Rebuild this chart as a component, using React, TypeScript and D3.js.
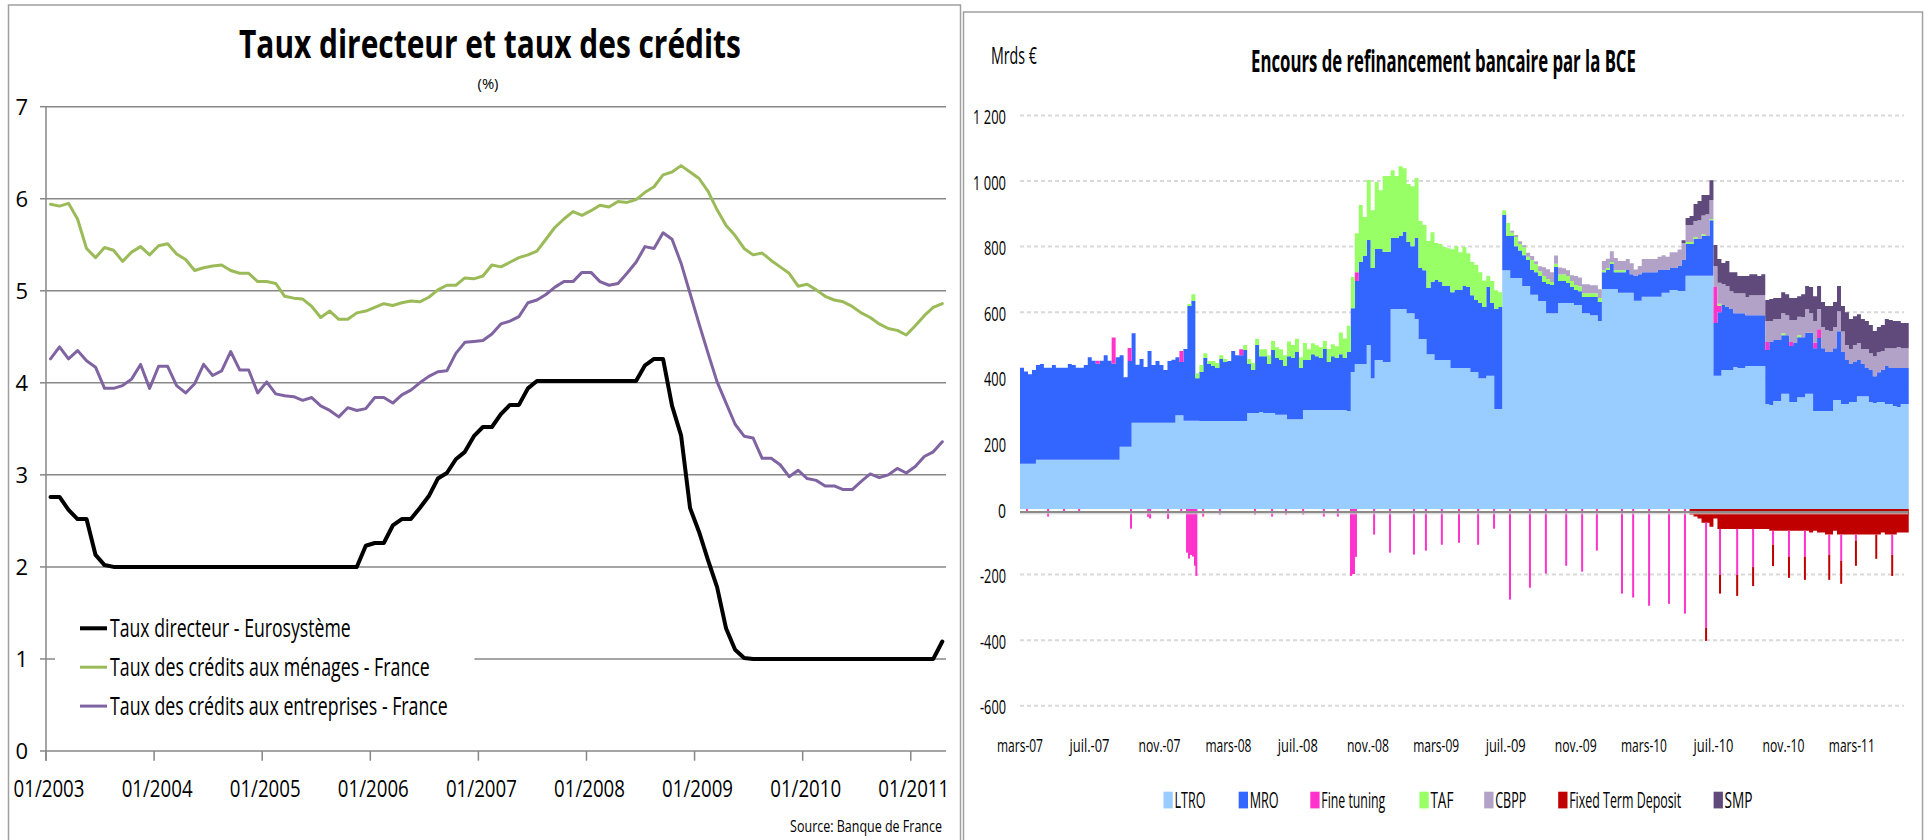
import React, { useLayoutEffect, useRef, useState } from 'react';
import * as d3 from 'd3';

const FONT = "'Open Sans', 'DejaVu Sans', sans-serif";

// ================= LEFT CHART DATA (monthly, 01/2003 .. 04/2011) =================
const leftYearLabels = ['01/2003', '01/2004', '01/2005', '01/2006', '01/2007', '01/2008', '01/2009', '01/2010', '01/2011'];
const leftYTicks = [0, 1, 2, 3, 4, 5, 6, 7];
const leftLegendLabels = [
  'Taux directeur - Eurosystème',
  'Taux des crédits aux ménages - France',
  'Taux des crédits aux entreprises - France',
];

const tauxDirecteur = [
  2.76, 2.76, 2.62, 2.52, 2.52, 2.13, 2.02, 2.0, 2.0, 2.0,
  2.0, 2.0, 2.0, 2.0, 2.0, 2.0, 2.0, 2.0, 2.0, 2.0,
  2.0, 2.0, 2.0, 2.0, 2.0, 2.0, 2.0, 2.0, 2.0, 2.0,
  2.0, 2.0, 2.0, 2.0, 2.0, 2.23, 2.26, 2.26, 2.45, 2.52,
  2.52, 2.64, 2.77, 2.96, 3.02, 3.17, 3.25, 3.42, 3.52, 3.52,
  3.66, 3.76, 3.76, 3.94, 4.02, 4.02, 4.02, 4.02, 4.02, 4.02,
  4.02, 4.02, 4.02, 4.02, 4.02, 4.02, 4.19, 4.26, 4.26, 3.75,
  3.43, 2.64, 2.38, 2.07, 1.78, 1.33, 1.10, 1.01, 1.0, 1.0,
  1.0, 1.0, 1.0, 1.0, 1.0, 1.0, 1.0, 1.0, 1.0, 1.0,
  1.0, 1.0, 1.0, 1.0, 1.0, 1.0, 1.0, 1.0, 1.0, 1.19,
];

const creditsMenages = [
  5.94, 5.92, 5.95, 5.78, 5.46, 5.36, 5.47, 5.44, 5.32, 5.42,
  5.48, 5.39, 5.49, 5.51, 5.40, 5.34, 5.22, 5.25, 5.27, 5.28,
  5.22, 5.19, 5.19, 5.10, 5.10, 5.08, 4.94, 4.92, 4.91, 4.83,
  4.71, 4.78, 4.69, 4.69, 4.76, 4.78, 4.82, 4.86, 4.84, 4.87,
  4.89, 4.88, 4.93, 5.01, 5.06, 5.06, 5.14, 5.13, 5.16, 5.28,
  5.26, 5.31, 5.36, 5.39, 5.43, 5.56, 5.69, 5.78, 5.86, 5.82,
  5.87, 5.93, 5.91, 5.97, 5.96, 5.99, 6.07, 6.13, 6.26, 6.29,
  6.36, 6.29, 6.22, 6.08, 5.88, 5.71, 5.60, 5.46, 5.39, 5.41,
  5.33, 5.26, 5.19, 5.05, 5.07, 5.01, 4.94, 4.90, 4.88, 4.83,
  4.76, 4.71, 4.64, 4.59, 4.57, 4.52, 4.62, 4.73, 4.82, 4.86,
];

const creditsEntreprises = [
  4.26, 4.39, 4.26, 4.35, 4.24, 4.17, 3.94, 3.94, 3.97, 4.04,
  4.20, 3.94, 4.18, 4.18, 3.97, 3.89, 3.99, 4.20, 4.08, 4.13,
  4.34, 4.14, 4.14, 3.89, 4.01, 3.88, 3.86, 3.85, 3.81, 3.84,
  3.75, 3.70, 3.63, 3.73, 3.70, 3.72, 3.84, 3.84, 3.78, 3.87,
  3.92, 4.00, 4.07, 4.12, 4.13, 4.32, 4.44, 4.45, 4.46, 4.53,
  4.64, 4.67, 4.72, 4.87, 4.90, 4.96, 5.04, 5.10, 5.10, 5.20,
  5.20, 5.10, 5.06, 5.08, 5.19, 5.31, 5.48, 5.46, 5.63, 5.56,
  5.30, 4.97, 4.64, 4.32, 4.01, 3.78, 3.55, 3.42, 3.40, 3.18,
  3.18, 3.11, 2.98, 3.05, 2.96, 2.94, 2.88, 2.88, 2.84, 2.84,
  2.93, 3.01, 2.97, 3.00, 3.07, 3.02, 3.09, 3.20, 3.25, 3.36,
];

// ================= RIGHT CHART DATA (weekly, from 03/2007, Mrds €) =================
const rightXLabels = ['mars-07', 'juil.-07', 'nov.-07', 'mars-08', 'juil.-08', 'nov.-08', 'mars-09', 'juil.-09', 'nov.-09', 'mars-10', 'juil.-10', 'nov.-10', 'mars-11'];
const rightYTicks = [-600, -400, -200, 0, 200, 400, 600, 800, 1000, 1200];
const rightYLabels = ['-600', '-400', '-200', '0', '200', '400', '600', '800', '1 000', '1 200'];
const rightLegendLabels = ['LTRO', 'MRO', 'Fine tuning', 'TAF', 'CBPP', 'Fixed Term Deposit', 'SMP'];

const ltro = [
  138, 138, 138, 138, 150, 150, 150, 150, 150, 150,
  150, 150, 150, 150, 150, 150, 150, 150, 150, 150,
  150, 150, 150, 150, 150, 190, 190, 190, 263, 263,
  263, 263, 263, 263, 263, 263, 263, 263, 263, 286,
  286, 269, 269, 269, 269, 268, 268, 268, 268, 268,
  268, 268, 268, 268, 268, 268, 268, 293, 293, 293,
  296, 293, 293, 293, 287, 287, 287, 274, 274, 274,
  274, 302, 302, 302, 302, 302, 302, 302, 302, 302,
  302, 302, 299, 418, 442, 442, 442, 500, 399, 454,
  454, 448, 448, 610, 610, 610, 610, 597, 597, 579,
  518, 518, 472, 472, 454, 454, 454, 454, 430, 430,
  430, 430, 430, 418, 418, 399, 399, 406, 406, 305,
  305, 728, 728, 704, 704, 704, 680, 680, 653, 653,
  634, 634, 597, 597, 597, 628, 628, 628, 628, 622,
  622, 597, 597, 591, 591, 573, 671, 671, 671, 671,
  659, 659, 659, 659, 635, 635, 647, 647, 647, 647,
  647, 659, 659, 668, 668, 665, 665, 711, 711, 711,
  711, 711, 711, 711, 406, 406, 424, 424, 424, 433,
  430, 430, 436, 436, 436, 436, 436, 320, 317, 329,
  329, 351, 351, 326, 326, 341, 341, 351, 351, 299,
  299, 299, 299, 299, 332, 332, 320, 320, 326, 326,
  344, 344, 344, 326, 323, 326, 326, 320, 320, 314,
  311, 320, 320,
];

const mro = [
  293, 281, 273, 286, 289, 292, 281, 281, 289, 281,
  281, 281, 292, 289, 281, 281, 289, 313, 302, 293,
  302, 319, 302, 293, 313, 279, 212, 261, 273, 177,
  194, 170, 219, 176, 188, 176, 161, 188, 192, 177,
  162, 219, 350, 365, 130, 150, 192, 174, 168, 162,
  189, 180, 183, 214, 201, 201, 217, 149, 131, 207,
  170, 173, 149, 192, 173, 167, 149, 192, 186, 205,
  156, 152, 152, 170, 164, 158, 186, 146, 164, 158,
  170, 158, 180, 194, 253, 311, 329, 320, 336, 339,
  339, 336, 336, 216, 216, 222, 235, 217, 204, 247,
  217, 210, 202, 220, 244, 238, 226, 226, 231, 238,
  238, 250, 247, 234, 219, 229, 217, 271, 222, 305,
  311, 168, 104, 128, 97, 84, 94, 79, 76, 69,
  76, 58, 89, 86, 141, 67, 67, 61, 49, 46,
  42, 49, 49, 55, 55, 58, 51, 58, 76, 51,
  63, 63, 70, 57, 75, 81, 75, 75, 75, 75,
  82, 70, 70, 67, 67, 76, 94, 97, 97, 112,
  112, 121, 121, 169, 161, 194, 198, 192, 186, 164,
  167, 167, 155, 155, 155, 155, 155, 165, 192, 186,
  186, 179, 179, 171, 180, 183, 183, 186, 186, 191,
  222, 191, 180, 180, 158, 210, 159, 134, 116, 122,
  110, 98, 86, 98, 82, 91, 98, 116, 110, 116,
  119, 110, 110,
];

// positive fine tuning operations: [week, amount]
const fineTuningPos = [[19, 9], [23, 80], [27, 40], [40, 34], [55, 18], [84, 27], [174, 110], [175, 20], [187, 24], [193, 12], [199, 18], [200, 27]];

// TAF from week 42
const tafStart = 42;
const taf = [
  6, 21, 15, 21, 15, 9, 15, 15,
  12, 9, 0, 0, 0, 0, 15, 15, 21, 18,
  21, 21, 27, 27, 33, 33, 33, 45, 40, 40,
  33, 52, 33, 33, 33, 33, 24, 40, 36, 36,
  66, 60, 80, 95, 119, 174, 119, 183, 176, 204,
  179, 231, 231, 207, 189, 213, 194, 177, 183, 183,
  143, 138, 143, 152, 113, 116, 119, 115, 131, 133,
  115, 119, 103, 101, 107, 94, 81, 33, 67, 57,
  45, 15, 40, 10, 28, 20, 24, 10, 30, 24,
  15, 18, 15, 9, 10, 20, 21, 21, 18, 15,
  15, 12, 12, 12, 12, 12, 6, 6, 6, 6,
  6, 6, 0, 0, 0, 0, 0, 0, 0, 0,
  0, 0, 0, 0, 0, 0, 0, 6, 6, 6,
  0, 6, 0, 4, 0, 6, 0, 0, 0, 0,
  0, 0, 0, 0, 0, 0, 0, 0, 0, 0,
  0, 6, 0, 0, 0, 6,
];

// CBPP from week 123
const cbppStart = 123;
const cbpp = [
  6, 6, 8, 6, 12, 12, 9,
  15, 27, 30, 30, 25, 21, 18, 18, 18, 27,
  27, 27, 27, 24, 24, 27, 28, 28, 33, 37,
  28, 28, 33, 33, 20, 25, 40, 40, 40, 40,
  40, 45, 40, 48, 48, 50, 52, 52, 52, 49,
  57, 57, 67, 58, 64, 64, 64, 64, 54, 61,
  61, 61, 55, 61, 61, 61, 61, 64, 64, 64,
  64, 61, 61, 67, 70, 56, 61, 73, 60, 65,
  62, 65, 67, 64, 65, 61, 62, 46, 46, 52,
  52, 46, 58, 51, 61, 61, 58, 54, 60, 60,
  64, 60, 60,
];

// SMP from week 166
const smpStart = 166;
const smp = [
  8, 21, 27, 52,
  59, 62, 58, 60, 64, 72, 64, 76, 58, 64,
  52, 52, 64, 64, 64, 58, 64, 64, 67, 64,
  64, 64, 64, 67, 67, 63, 70, 70, 80, 76,
  70, 76, 73, 76, 76, 77, 78, 100, 91, 88,
  88, 91, 85, 86, 77, 77, 79, 89, 86, 83,
  79, 77, 77,
];

// Fixed term deposits from week 168 (negative)
const ftdStart = 168;
const ftd = [
  -17, -23, -29, -42, -42, -54, -29, -61, -61, -61,
  -61, -61, -61, -61, -61, -61, -61, -61, -61, -61,
  -66, -66, -66, -66, -66, -66, -66, -66, -66, -66,
  -72, -66, -72, -72, -78, -78, -66, -78, -78, -78,
  -78, -78, -78, -78, -78, -78, -78, -78, -72, -78,
  -78, -78, -72, -72, -72,
];

// negative fine tuning operations (daily): [position in weeks, fine tuning, extra fixed term deposit]
const fineTuningNeg = [
  [1.5, -6, 0], [6.8, -23, 0], [10.8, -6, 0], [14.6, -6, 0], [27.6, -60, 0], [31.9, -24, 0], [32.4, -29, 0], [36.9, -30, 0], [40.2, -6, 0],
  [41.66, -133, 0], [42.16, -151, 0], [42.66, -140, 0], [43.16, -145, 0], [43.66, -173, 0], [44.0, -204, 0],
  [45.7, -23, 0], [49.9, -17, 0], [58.7, -17, 0], [63.0, -23, 0], [66.5, -17, 0], [70.8, -17, 0], [76.0, -23, 0], [79.5, -23, 0],
  [82.8, -204, 0], [83.3, -198, 0], [83.55, -198, 0], [84.05, -146, 0],
  [88.6, -78, 0], [92.6, -133, 0], [98.6, -139, 0], [101.6, -127, 0], [105.6, -109, 0], [109.9, -103, 0], [114.7, -109, 0], [118.7, -60, 0],
  [122.7, -276, 0], [127.7, -240, 0], [131.7, -197, 0], [136.8, -173, 0], [140.8, -191, 0], [144.5, -127, 0], [150.8, -258, 0], [153.6, -270, 0],
  [157.6, -295, 0], [162.6, -289, 0], [166.6, -319, 0],
  [171.9, -320, -40], [175.4, -140, -57], [179.7, -140, -64], [183.7, -116, -58], [188.7, -43, -65], [192.7, -80, -64], [196.7, -80, -70],
  [202.8, -61, -77], [205.8, -80, -70], [209.5, -18, -77], [214.6, 0, -74], [218.6, -62, -64],
];

// ================= STYLES / LAYOUT =================
const leftColors = ['#000000', '#9BBB59', '#8064A2'];
const leftWidths = [4, 3, 3];
const leftLegendLens = [241, 320, 338];
const rightColors = ['#99CCFF', '#3366FF', '#FF33CC', '#99FF66', '#B3A2C7', '#C00000', '#604A7B'];
const rightLegendX = [1163.5, 1238.7, 1310.3, 1419.4, 1484.2, 1558.2, 1713.6];
const rightLegendLens = [31, 29, 64, 23, 31, 112, 28];

type TP = { x: number; y: number; size: number; anchor?: string; weight?: number; len?: number; fill?: string; children: React.ReactNode };
// Text squeezed horizontally (scaleX) so that its width matches the reference.
function T({ x, y, size, anchor = 'start', weight = 400, len, fill = '#000', children }: TP) {
  const ref = useRef<SVGTextElement>(null);
  const [sx, setSx] = useState(1);
  useLayoutEffect(() => {
    if (len && ref.current) {
      const n = ref.current.getComputedTextLength();
      if (n > 0) setSx(len / n);
    }
  }, [len, size, children]);
  return (
    <text ref={ref} x={0} y={0} transform={`translate(${x},${y}) scale(${sx},1)`} fontSize={size} fontFamily={FONT}
      fontWeight={weight} fill={fill} textAnchor={anchor as any}>
      {children}
    </text>
  );
}

const at = (arr: number[], start: number, i: number) => (i >= start && i - start < arr.length ? arr[i - start] : 0);

export default function App() {
  // ---------- left scales ----------
  const xL = d3.scaleLinear().domain([0, 100]).range([46, 946.8]);
  const yL = d3.scaleLinear().domain([0, 7]).range([751, 106.7]);
  const lineGen = d3.line<number>().x((_, i) => xL(i + 0.5)).y((v) => yL(v));
  const leftSeries = [creditsEntreprises, creditsMenages, tauxDirecteur];
  const leftSeriesIdx = [2, 1, 0];

  // ---------- right scales ----------
  const t0 = Date.UTC(2007, 2, 1);
  const xR = d3.scaleUtc().domain([new Date(t0), new Date(Date.UTC(2011, 2, 1))]).range([1020, 1851.8]);
  const yR = d3.scaleLinear().domain([-600, 1200]).range([705.8, 115.4]);
  const weekDate = (p: number) => new Date(t0 + p * 7 * 86400000);
  const N = ltro.length;
  const ftPosMap = new Map(fineTuningPos.map(([w, v]) => [w, v]));
  const rows = d3.range(N + 1).map((i) => {
    const j = Math.min(i, N - 1);
    return {
      date: weekDate(i),
      ltro: ltro[j],
      mro: mro[j],
      ft: ftPosMap.get(j) || 0,
      taf: at(taf, tafStart, j),
      cbpp: at(cbpp, cbppStart, j),
      smp: at(smp, smpStart, j),
      ftd: at(ftd, ftdStart, j),
    };
  });
  const keys = ['ltro', 'mro', 'ft', 'taf', 'cbpp', 'smp'];
  const keyColor: Record<string, string> = { ltro: rightColors[0], mro: rightColors[1], ft: rightColors[2], taf: rightColors[3], cbpp: rightColors[4], smp: rightColors[6] };
  const stacked = d3.stack<any>().keys(keys)(rows);
  const area = d3.area<any>()
    .x((d) => xR(d.data.date))
    .y0((d) => yR(d[0]))
    .y1((d) => yR(d[1]))
    .curve(d3.curveStepAfter);
  const ftdArea = d3.area<any>()
    .x((d) => xR(d.date))
    .y0(() => yR(0))
    .y1((d) => yR(d.ftd))
    .curve(d3.curveStepAfter)(rows);

  const rightLabelLen = (s: string) => (s.startsWith('mars') ? 46 : s.startsWith('juil') ? 40 : 42);
  const yLabLen = (s: string) => (s.length === 5 ? 33 : s.length === 4 ? 26 : s.length === 3 ? 22 : 8);

  return (
    <svg width={1927} height={840} style={{ position: 'absolute', left: 0, top: 0, background: '#fff' }}>
      <rect x={0} y={0} width={1927} height={840} fill="#fff" />

      {/* ================= LEFT PANEL ================= */}
      <rect x={8.5} y={5} width={952} height={850} fill="none" stroke="#a0a0a0" strokeWidth={1.5} />
      <T x={490} y={58.3} size={40} weight={700} anchor="middle" len={502}>Taux directeur et taux des crédits</T>
      <T x={488} y={89} size={14} anchor="middle" len={21}>(%)</T>

      {leftYTicks.map((v) => (
        <g key={'gl' + v}>
          <line x1={46} x2={946} y1={yL(v)} y2={yL(v)} stroke="#878787" strokeWidth={1.5} />
          <line x1={40} x2={46} y1={yL(v)} y2={yL(v)} stroke="#878787" strokeWidth={1.5} />
          <T x={28} y={yL(v) + 8} size={22} anchor="end">{String(v)}</T>
        </g>
      ))}
      <line x1={46} x2={46} y1={yL(7)} y2={760.7} stroke="#878787" strokeWidth={1.5} />
      {leftYearLabels.map((lab, k) => (
        <g key={lab}>
          <line x1={xL(12 * k)} x2={xL(12 * k)} y1={751} y2={760.7} stroke="#878787" strokeWidth={1.5} />
          <T x={xL(12 * k) + 3} y={797} size={23} anchor="middle" len={71}>{lab}</T>
        </g>
      ))}

      {/* legend background */}
      <rect x={55} y={598} width={419.5} height={128} fill="#fff" />

      {leftSeries.map((s, k) => (
        <path key={'ls' + k} d={lineGen(s) || ''} fill="none" stroke={leftColors[leftSeriesIdx[k]]}
          strokeWidth={leftWidths[leftSeriesIdx[k]]} strokeLinejoin="round" strokeLinecap="round" />
      ))}

      {leftLegendLabels.map((lab, k) => {
        const ly = 628.3 + k * 38.9;
        return (
          <g key={lab}>
            <line x1={80} x2={107} y1={ly} y2={ly} stroke={leftColors[k]} strokeWidth={leftWidths[k]} />
            <T x={110} y={ly + 8.5} size={25} len={leftLegendLens[k]}>{lab}</T>
          </g>
        );
      })}
      <T x={942} y={832} size={16} anchor="end" len={152}>Source: Banque de France</T>

      {/* ================= RIGHT PANEL ================= */}
      <rect x={963.5} y={12} width={959} height={850} fill="none" stroke="#a0a0a0" strokeWidth={1.5} />
      <T x={991} y={64} size={24} len={46}>Mrds €</T>
      <T x={1443.5} y={71.5} size={30} weight={700} anchor="middle" len={385}>Encours de refinancement bancaire par la BCE</T>

      {rightYTicks.map((v, k) => (
        <g key={'rg' + v}>
          {v !== 0 && (
            <line x1={1020} x2={1904} y1={yR(v)} y2={yR(v)} stroke="#d9d9d9" strokeWidth={2} strokeDasharray="4 3" />
          )}
          <T x={1006} y={yR(v) + 8.5} size={20} anchor="end" len={yLabLen(rightYLabels[k])}>{rightYLabels[k]}</T>
        </g>
      ))}

      {stacked.map((s) => (
        <path key={s.key} d={area(s as any) || ''} fill={keyColor[s.key]} />
      ))}
      <path d={ftdArea || ''} fill={rightColors[5]} />

      {fineTuningNeg.map(([p, ft, extra], k) => {
        const x = xR(weekDate(p));
        const base = at(ftd, ftdStart, Math.floor(p));
        const yTop = yR(base);
        const yMid = yR(base + ft);
        const yBot = yR(base + ft + extra);
        return (
          <g key={'sp' + k}>
            {ft < 0 && <rect x={x} y={yTop} width={2} height={yMid - yTop} fill={rightColors[2]} />}
            {extra < 0 && <rect x={x} y={yMid} width={2} height={yBot - yMid} fill={rightColors[5]} />}
          </g>
        );
      })}

      <line x1={1020} x2={1908} y1={512} y2={512} stroke="#8c8c8c" strokeWidth={2} />
      <line x1={1020} x2={1908} y1={513.8} y2={513.8} stroke="#cfcfcf" strokeWidth={1} />

      {rightXLabels.map((lab, i) => (
        <T key={lab} x={xR(new Date(Date.UTC(2007, 2 + 4 * i, 1)))} y={752} size={19} anchor="middle" len={rightLabelLen(lab)}>{lab}</T>
      ))}

      {rightLegendLabels.map((lab, k) => (
        <g key={lab}>
          <rect x={rightLegendX[k]} y={791.7} width={9.3} height={16.7} fill={rightColors[k]} />
          <T x={rightLegendX[k] + 11} y={808.3} size={21} len={rightLegendLens[k]}>{lab}</T>
        </g>
      ))}
    </svg>
  );
}
